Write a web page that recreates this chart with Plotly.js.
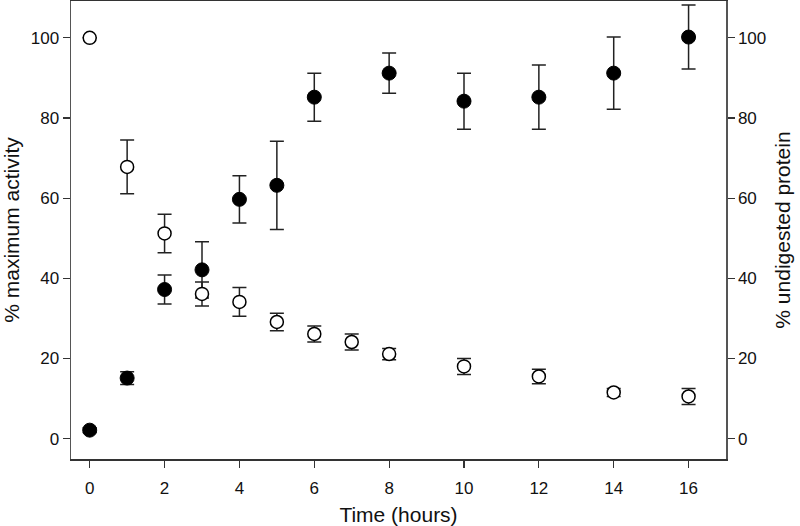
<!DOCTYPE html>
<html>
<head>
<meta charset="utf-8">
<script src="https://cdn.plot.ly/plotly-3.0.1.min.js"></script>
<style>
  html, body { margin: 0; padding: 0; background: #fff; }
  #chart { width: 800px; height: 526px; }
</style>
</head>
<body>
<div id="chart"></div>
<script>
// activity (filled circles, left axis)
var actTime = [0, 1, 2, 3, 4, 5, 6, 8, 10, 12, 14, 16];
var actVal  = [2.1, 15.1, 37.2, 42.1, 59.7, 63.2, 85.2, 91.2, 84.2, 85.2, 91.2, 100.2];
var actErr  = [0.6, 1.6, 3.6, 7.0, 5.9, 11.0, 6.0, 5.0, 7.0, 8.0, 9.0, 8.0];

// undigested protein (open circles, right axis)
var protTime = [0, 1, 2, 3, 4, 5, 6, 7, 8, 10, 12, 14, 16];
var protVal  = [100, 67.8, 51.2, 36.1, 34.1, 29.1, 26.1, 24.1, 21.1, 18.0, 15.5, 11.5, 10.5];
var protErr  = [0, 6.7, 4.8, 3.0, 3.6, 2.2, 2.0, 2.0, 1.4, 2.0, 1.8, 1.0, 2.0];

var xTicks = [0, 2, 4, 6, 8, 10, 12, 14, 16];
var yTicks = [0, 20, 40, 60, 80, 100];

var errStyle = function (arr) {
    return {type: 'data', array: arr, visible: true, color: '#222', thickness: 1.5, width: 7};
};

var data0 = [{
    x: actTime, y: actVal, type: 'scatter', mode: 'markers', name: 'activity',
    error_y: errStyle(actErr),
    marker: {color: '#000', size: 14, line: {color: '#000', width: 1}}
}, {
    x: protTime, y: protVal, type: 'scatter', mode: 'markers', name: 'protein',
    yaxis: 'y2',
    error_y: errStyle(protErr),
    marker: {color: '#fff', size: 13, line: {color: '#000', width: 1.5}}
}];

var axFont = {family: 'Liberation Sans, Arial, sans-serif', size: 17, color: '#111'};
var titleFont = {family: 'Liberation Sans, Arial, sans-serif', size: 21, color: '#111'};

var layout1 = {
    width: 800, height: 526,
    margin: {l: 71, r: 74, t: 1, b: 67},
    showlegend: false,
    paper_bgcolor: '#fff', plot_bgcolor: '#fff',
    xaxis: {
        range: [-0.5, 17], tickvals: xTicks, showgrid: false, zeroline: false,
        showline: true, mirror: true, linecolor: '#333', linewidth: 1.5,
        ticks: 'outside', ticklen: 7, tickcolor: '#333', tickwidth: 1.2,
        tickfont: axFont, ticklabelstandoff: 6,
        title: {text: 'Time (hours)', font: titleFont, standoff: 12}
    },
    yaxis: {
        range: [-5.1, 109.2], tickvals: yTicks, showgrid: false, zeroline: false,
        showline: true, linecolor: '#555', linewidth: 1.5,
        ticks: 'outside', ticklen: 7, tickcolor: '#333', tickwidth: 1.2,
        tickfont: axFont,
        title: {text: '% maximum activity', font: titleFont, standoff: 12}
    },
    yaxis2: {
        range: [-5.1, 109.2], tickvals: yTicks, showgrid: false, zeroline: false,
        overlaying: 'y', side: 'right',
        showline: true, linecolor: '#555', linewidth: 1.5,
        ticks: 'outside', ticklen: 7, tickcolor: '#333', tickwidth: 1.2,
        tickfont: axFont,
        title: {text: '% undigested protein', font: titleFont, standoff: 10}
    }
};

TESTER = document.getElementById('chart');
Plotly.newPlot(TESTER, data0, layout1, {displayModeBar: false, staticPlot: true});
</script>
</body>
</html>
